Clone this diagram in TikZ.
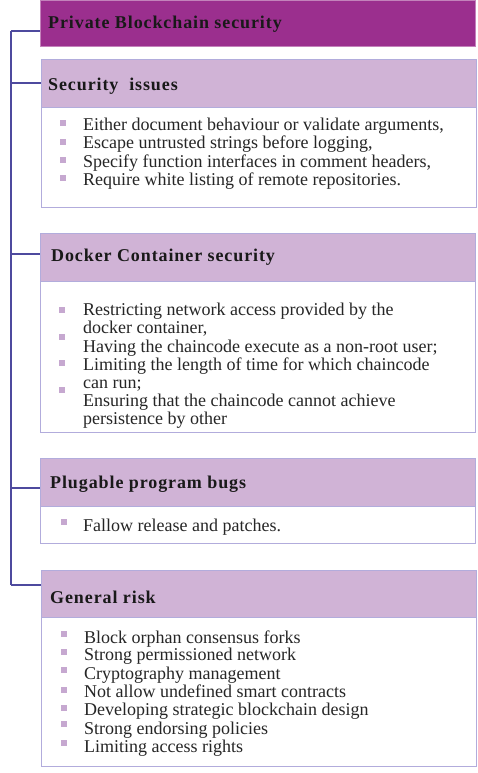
\documentclass[tikz,border=0pt]{standalone}
\usepackage{fontspec}
\setmainfont{Liberation Serif}
\newfontfamily\hdrfont[LetterSpace=5]{Liberation Serif}
\definecolor{titlepurple}{HTML}{9B2F8E}
\definecolor{hdrlilac}{HTML}{D0B3D6}
\definecolor{boxedge}{HTML}{B2ACDC}
\definecolor{spine}{HTML}{4E4A9E}
\definecolor{bulletlilac}{HTML}{C6A8D0}
\definecolor{bodytext}{HTML}{262626}
\tikzset{
  titlebox/.style={fill=titlepurple, draw=titlepurple!60, line width=0.6pt,
    anchor=north west, minimum width=435pt, minimum height=46pt, inner sep=0pt},
  hdrbox/.style={fill=hdrlilac, draw=boxedge, line width=1pt,
    anchor=north west, minimum width=435pt, minimum height=48pt, inner sep=0pt},
  bodybox/.style={fill=white, draw=boxedge, line width=1pt,
    anchor=north west, minimum width=435pt, inner sep=0pt},
  hdrtext/.style={anchor=west, inner sep=0pt, font=\hdrfont\fontsize{18}{20}\selectfont\bfseries, text=black!90},
  itemtext/.style={anchor=base west, inner sep=0pt, font=\fontsize{18}{18}\selectfont, text=bodytext},
  bulletsq/.style={fill=bulletlilac, minimum size=6.5pt, inner sep=0pt},
  conn/.style={draw=spine, line width=1.2pt}
}
\begin{document}
\begin{tikzpicture}[x=1pt,y=-1pt]
\useasboundingbox (0,0) rectangle (478,773);

% title bar
\node[titlebox] (title) at (40,0) {};
\node[hdrtext] (titletxt) at (48,24) {Private Blockchain security};

% section 1: Security issues
\node[hdrbox] (h1) at (41,59) {};
\node[bodybox, minimum height=100pt] (b1) at (41,107) {};
\node[hdrtext] (h1t) at (48,86) {Security\ \ issues};
\foreach \y/\m/\t [count=\i] in {
  130/123/{Either document behaviour or validate arguments,},
  148/142/{Escape untrusted strings before logging,},
  167/160/{Specify function interfaces in comment headers,},
  185/178/{Require white listing of remote repositories.}}{
  \node[bulletsq] (b1m\i) at (63,\m) {};
  \node[itemtext] (b1t\i) at (83,\y) {\t};
}

% section 2: Docker Container security
\node[hdrbox] (h2) at (40,233) {};
\node[bodybox, minimum height=151pt] (b2) at (40,281) {};
\node[hdrtext] (h2t) at (51,257) {Docker Container security};
\node[bulletsq] (b2m1) at (62,310) {};
\node[bulletsq] (b2m2) at (62,337) {};
\node[bulletsq] (b2m3) at (62,363) {};
\node[bulletsq] (b2m4) at (62,390) {};
\node[itemtext] (b2t1) at (83,315) {Restricting network access provided by the};
\node[itemtext] (b2t2) at (83,333) {docker container,};
\node[itemtext] (b2t3) at (83,352) {Having the chaincode execute as a non-root user;};
\node[itemtext] (b2t4) at (83,370) {Limiting the length of time for which chaincode};
\node[itemtext] (b2t5) at (83,388) {can run;};
\node[itemtext] (b2t6) at (83,406) {Ensuring that the chaincode cannot achieve};
\node[itemtext] (b2t7) at (83,424) {persistence by other};

% section 3: Plugable program bugs
\node[hdrbox] (h3) at (40,458) {};
\node[bodybox, minimum height=37pt] (b3) at (40,506) {};
\node[hdrtext] (h3t) at (50,484) {Plugable program bugs};
\node[bulletsq] (b3m1) at (64,522) {};
\node[itemtext] (b3t1) at (83,531) {Fallow release and patches.};

% section 4: General risk
\node[hdrbox] (h4) at (41,570) {};
\node[bodybox, minimum height=149pt] (b4) at (41,617) {};
\node[hdrtext] (h4t) at (50,597) {General risk};
\foreach \y/\m/\t [count=\i] in {
  643/634/{Block orphan consensus forks},
  660/652/{Strong permissioned network},
  679/670/{Cryptography management},
  697/690/{Not allow undefined smart contracts},
  715/708/{Developing strategic blockchain design},
  734/724/{Strong endorsing policies},
  752/743/{Limiting access rights}}{
  \node[bulletsq] (b4m\i) at (64,\m) {};
  \node[itemtext] (b4t\i) at (84,\y) {\t};
}

% spine and branches
\coordinate (s0) at (11,31);
\coordinate (s1) at (11,83);
\coordinate (s2) at (11,254);
\coordinate (s3) at (11,488);
\coordinate (s4) at (11,585);
\draw[conn] (s0) -- (s4);
\draw[conn] (s0) -- (s0 -| title.west);
\draw[conn] (s1) -- (s1 -| h1.west);
\draw[conn] (s2) -- (s2 -| h2.west);
\draw[conn] (s3) -- (s3 -| h3.west);
\draw[conn] (s4) -- (s4 -| h4.west);
\end{tikzpicture}
\end{document}
